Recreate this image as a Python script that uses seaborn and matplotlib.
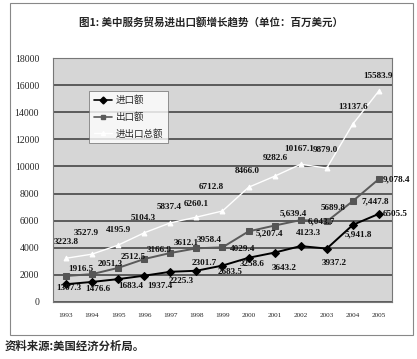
import numpy as np
import pandas as pd
import matplotlib
matplotlib.use("Agg")
import matplotlib.pyplot as plt
import seaborn as sns
from matplotlib.patches import Rectangle

# data (million USD)
years = [1993, 1994, 1995, 1996, 1997, 1998, 1999, 2000, 2001, 2002, 2003, 2004, 2005]
imports = [1307.3, 1476.6, 1683.4, 1937.4, 2225.3, 2301.7, 2683.5, 3258.6, 3643.2, 4123.3, 3937.2, 5689.8, 6505.5]
exports = [1916.5, 2051.3, 2512.5, 3166.9, 3612.1, 3958.4, 4029.3, 5207.4, 5639.4, 6043.8, 5941.8, 7447.8, 9078.4]
totals = [3223.8, 3527.9, 4195.9, 5104.3, 5837.4, 6260.1, 6712.8, 8466.0, 9282.6, 10167.1, 9879.0, 13137.6, 15583.9]

# label texts as printed on the original
import_labels = ['1307.3', '1476.6', '1683.4', '1937.4', '2225.3', '2301.7', '2683.5',
                 '3258.6', '3643.2', '4123.3', '3937.2', '5,941.8', '6505.5']
export_labels = ['1916.5', '2051.3', '2512.5', '3166.9', '3612.1', '3958.4', '4029.4',
                 '5,207.4', '5,639.4', '6,043.7', '5689.8', '7,447.8', '9,078.4']
total_labels = ['3223.8', '3527.9', '4195.9', '5104.3', '5837.4', '6260.1', '6712.8',
                '8466.0', '9282.6', '10167.1', '9879.0', '13137.6', '15583.9']

series_names = ['进口额', '出口额', '进出口总额']

# label offsets in pixels (right, down)
imp_off = [(3, 4), (6, 7), (13, 7), (16, 10), (11, 9), (8, -8), (8, 6),
           (4, 6), (10, 15), (8, -13), (7, 14), (5, 10), (16, 0)]
exp_off = [(15, -7), (18, -10), (15, -11), (15, -9), (16, -10), (13, -8), (20, 2),
           (21, 2), (19, -12), (21, 1), (6, -13), (22, 0), (18, 0)]
tot_off = [(0, -16), (-6, -21), (0, -15), (-1, -15), (-1, -16), (0, -13), (-11, -24),
           (-1, -16), (1, -18), (-1, -15), (-1, -18), (0, -17), (-1, -15)]

sns.set_style("white")
plt.rcParams['font.family'] = ['Liberation Serif', 'Noto Sans CJK SC', 'DejaVu Sans']
cjk = ['Noto Sans CJK SC', 'DejaVu Sans']

df = pd.DataFrame({
    'year': years * 3,
    'value': imports + exports + totals,
    'series': [series_names[0]] * 13 + [series_names[1]] * 13 + [series_names[2]] * 13,
})

fig = plt.figure(figsize=(4.17, 3.59), dpi=100)
ax = fig.add_axes([0.127, 0.159, 0.813, 0.679])
ax.set_facecolor('#d6d6d6')

palette = {series_names[0]: 'black', series_names[1]: '#5a5a5a', series_names[2]: 'white'}
markers = {series_names[0]: 'D', series_names[1]: 's', series_names[2]: '^'}
sns.lineplot(data=df, x='year', y='value', hue='series', style='series',
             palette=palette, markers=markers, dashes=False, linewidth=1.4,
             markersize=4.5, markeredgecolor=None, ax=ax, legend=False)
for line, mc in zip(ax.lines, ['black', '#555555', 'white']):
    line.set_markerfacecolor(mc)
    line.set_markeredgecolor(mc)
ax.lines[2].set_linewidth(1.0)
ax.lines[2].set_markersize(3.5)

ax.set_xlim(1992.5, 2005.5)
ax.set_ylim(0, 18000)
ax.set_yticks(np.arange(0, 18001, 2000))
ax.set_xticks(years)
ax.set_xticklabels([str(y) for y in years], fontsize=5.2)
ax.set_xticks(np.arange(1992.5, 2005.6, 1), minor=True)
ax.tick_params(axis='x', which='major', length=0, pad=8)
ax.tick_params(axis='x', which='minor', length=3, direction='in', color='#555555')
ax.tick_params(axis='y', length=0, labelsize=7, pad=10)
ax.set_xlabel('')
ax.set_ylabel('')
ax.grid(axis='y', color='#3a3a3a', linewidth=1.1)
ax.set_axisbelow(True)
for s in ax.spines.values():
    s.set_color('#777777')
    s.set_linewidth(0.8)

for vals, labs, offs in [(imports, import_labels, imp_off),
                         (exports, export_labels, exp_off),
                         (totals, total_labels, tot_off)]:
    for yr, v, lab, (dx, dy) in zip(years, vals, labs, offs):
        ax.annotate(lab, (yr, v), xytext=(dx, -dy), textcoords='offset pixels',
                    ha='center', va='center', fontsize=6.6, fontweight='bold',
                    color='#111111')

# legend box
leg = ax.legend(handles=[plt.Line2D([], [], color='black', marker='D', markersize=3.5, lw=1.2),
                         plt.Line2D([], [], color='#5a5a5a', marker='s', markersize=3.5, lw=1.2),
                         plt.Line2D([], [], color='white', marker='^', markersize=3, lw=1.0)],
                labels=series_names, loc='upper left', bbox_to_anchor=(0.092, 0.885),
                prop={'family': cjk, 'size': 6.8}, frameon=True, fancybox=False,
                handlelength=1.9, handletextpad=0.4, borderpad=0.5, labelspacing=0.75)
leg.get_frame().set_facecolor('white')
leg.get_frame().set_edgecolor('#666666')
leg.get_frame().set_linewidth(0.6)

# outer frame, title and source note
fig.add_artist(Rectangle((10 / 417, 1 - 335 / 359), 403 / 417, 332 / 359,
                         transform=fig.transFigure, fill=False, edgecolor='#888888', lw=0.8))
fig.text(0.505, 1 - 22 / 359, '图1: 美中服务贸易进出口额增长趋势（单位：百万美元）',
         ha='center', va='center', fontsize=7.6, fontweight='bold', family=cjk)
fig.text(5 / 417, 1 - 346 / 359, '资料来源:美国经济分析局。', ha='left', va='center',
         fontsize=8.2, fontweight='bold', family=cjk)

fig.savefig('out.png', dpi=100, facecolor='white')
